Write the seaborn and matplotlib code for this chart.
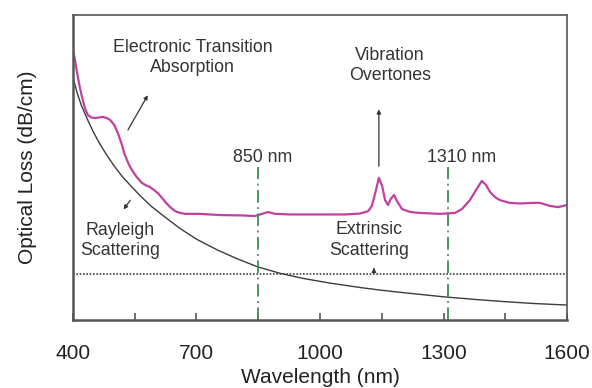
import matplotlib
matplotlib.use("Agg")
import matplotlib.pyplot as plt
import seaborn as sns
import pandas as pd

# Measured total loss spectrum of the polymer waveguide (arbitrary dB/cm scale)
total_wl = [400, 405, 410, 416, 422, 429, 436, 445, 453, 463, 473, 482, 490, 500,
            509, 518, 526, 535, 543, 555, 568, 578, 587, 596, 606, 616, 626, 637,
            648, 660, 672, 690, 708, 757, 806, 842, 859, 874, 891, 927, 1000,
            1061, 1097, 1117, 1126, 1136, 1143, 1151, 1158, 1165, 1172, 1180,
            1187, 1199, 1219, 1243, 1291, 1328, 1345, 1364, 1379, 1393, 1403,
            1413, 1425, 1437, 1461, 1486, 1517, 1534, 1559, 1578, 1600]
total_loss = [8.85, 8.52, 8.10, 7.67, 7.31, 6.95, 6.72, 6.64, 6.62, 6.64, 6.66,
              6.62, 6.56, 6.40, 6.13, 5.78, 5.41, 5.12, 4.92, 4.68, 4.49, 4.41,
              4.36, 4.27, 4.16, 4.01, 3.84, 3.69, 3.57, 3.51, 3.48, 3.48, 3.48,
              3.44, 3.43, 3.41, 3.48, 3.54, 3.48, 3.46, 3.46, 3.46, 3.49, 3.57,
              3.74, 4.26, 4.66, 4.39, 3.93, 3.77, 3.97, 4.10, 3.90, 3.64, 3.54,
              3.51, 3.48, 3.51, 3.64, 3.93, 4.26, 4.56, 4.43, 4.20, 4.03, 3.93,
              3.84, 3.82, 3.84, 3.84, 3.74, 3.70, 3.77]

# Rayleigh scattering contribution
rayleigh_wl = [400, 410, 420, 436, 450, 465, 480, 500, 520, 543, 565, 590, 623,
               660, 700, 750, 800, 847, 903, 960, 1024, 1100, 1146, 1200, 1300,
               1380, 1450, 1520, 1600]
rayleigh_loss = [7.95, 7.45, 7.05, 6.55, 6.15, 5.78, 5.45, 5.05, 4.70, 4.36, 4.05,
                 3.73, 3.38, 3.00, 2.65, 2.30, 2.00, 1.75, 1.53, 1.36, 1.21,
                 1.06, 0.98, 0.90, 0.76, 0.67, 0.60, 0.54, 0.49]

# Wavelength-independent extrinsic scattering level
extrinsic_level = 1.51

# Telecom windows and their label positions
windows = [850, 1310]
window_labels = ["850 nm", "1310 nm"]
window_label_x = [860, 1345]

x_ticks = [400, 700, 1000, 1300, 1600]

sns.set_theme(style="white")
plt.rcParams["font.family"] = ["Liberation Sans", "DejaVu Sans"]

fig = plt.figure(figsize=(5.92, 3.88), dpi=100)
ax = fig.add_axes([0.1233, 0.1753, 0.8345, 0.786])

total = pd.DataFrame({"wl": total_wl, "loss": total_loss})
ray = pd.DataFrame({"wl": rayleigh_wl, "loss": rayleigh_loss})

sns.lineplot(data=ray, x="wl", y="loss", ax=ax, color="#3c3c3c", lw=1.0)
sns.lineplot(data=total, x="wl", y="loss", ax=ax, color="#c2409f", lw=1.6)
ax.axhline(extrinsic_level, color="#404040", lw=1.2, ls=(0, (1, 1)))

for wl, lab, lx in zip(windows, window_labels, window_label_x):
    ax.vlines(wl, 0, 5.0, color="#3a8f5a", lw=1.3, ls=(0, (7, 2.5, 1, 2.5)))
    ax.text(lx, 5.05, lab, ha="center", va="bottom", fontsize=12.8,
            color="#333333")

ax.set_xlim(400, 1600)
ax.set_ylim(0, 10)
ax.set_xticks(x_ticks)
ax.set_xticks([550, 850, 1150, 1450], minor=True)
ax.set_yticks([])
ax.tick_params(axis="x", which="both", direction="in", length=5, width=1.2,
               color="#555555", bottom=True, pad=17, labelsize=15,
               labelcolor="#222222")
ax.set_xlabel("Wavelength (nm)", fontsize=15, labelpad=4, color="#222222")
ax.set_ylabel("Optical Loss (dB/cm)", fontsize=15, labelpad=26, color="#222222")

for side, sp in ax.spines.items():
    sp.set_color("#555555")
    sp.set_linewidth(1.8 if side in ("left", "bottom") else 1.2)

txt_kw = dict(fontsize=12.8, color="#333333", ha="center", va="center",
              linespacing=1.25)
arrow_kw = dict(arrowstyle="-|>", color="#333333", lw=0.9, mutation_scale=6)

ax.text(690, 8.6, "Electronic Transition\nAbsorption", **txt_kw)
ax.annotate("", xy=(585, 7.45), xytext=(530, 6.15), arrowprops=arrow_kw)

ax.text(1170, 8.35, "Vibration\nOvertones", **txt_kw)
ax.annotate("", xy=(1143, 7.0), xytext=(1143, 4.95), arrowprops=arrow_kw)

ax.text(1120, 2.62, "Extrinsic\nScattering", **txt_kw)
ax.annotate("", xy=(1131, 1.8), xytext=(1131, 1.55), arrowprops=arrow_kw)

ax.text(515, 2.6, "Rayleigh\nScattering", **txt_kw)
ax.annotate("", xy=(519, 3.55), xytext=(543, 4.0), arrowprops=arrow_kw)

fig.savefig("out.png", dpi=100)
